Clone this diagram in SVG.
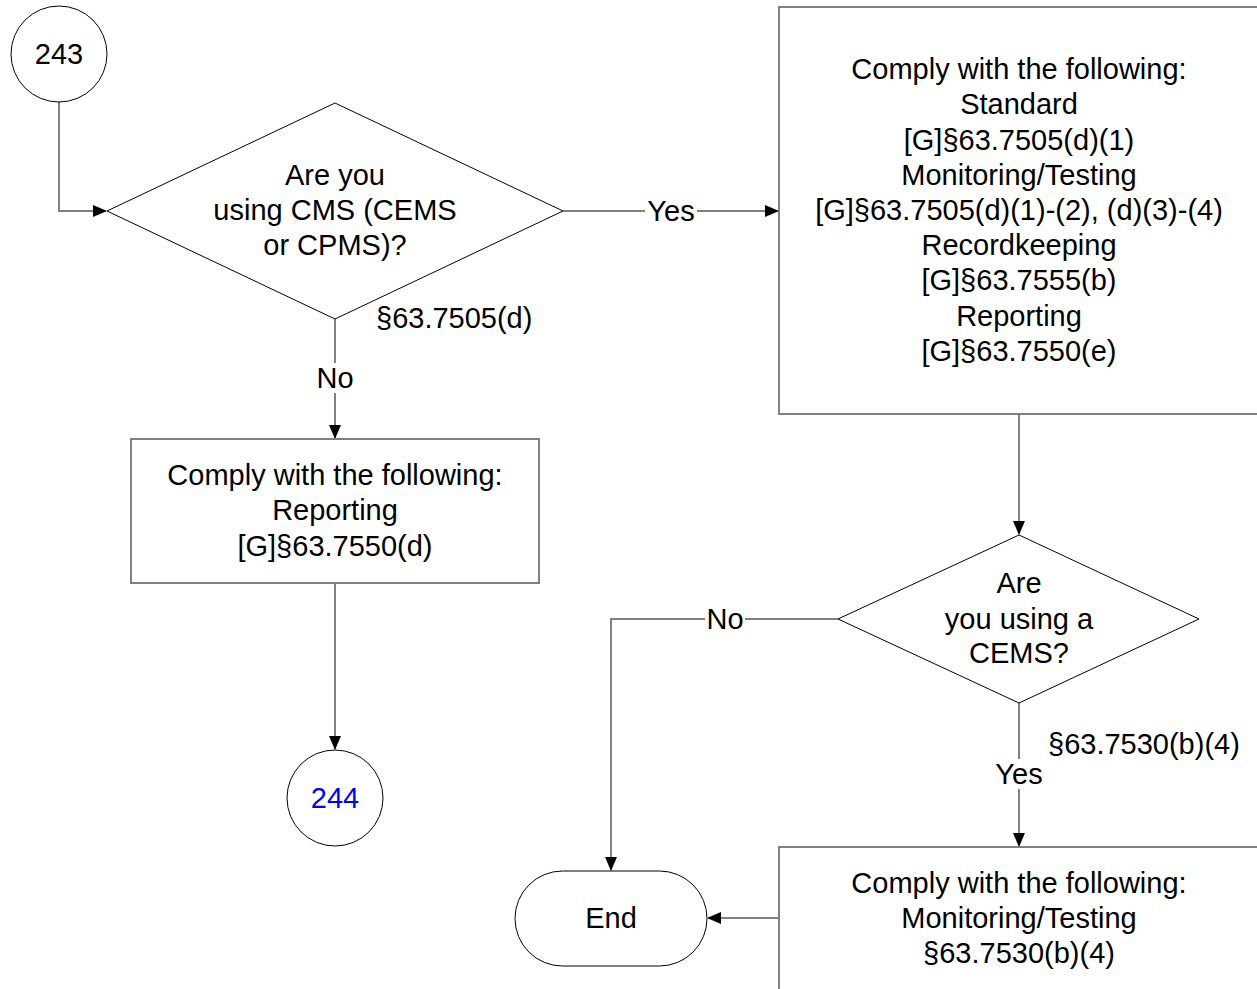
<svg xmlns="http://www.w3.org/2000/svg" width="1257" height="989" viewBox="0 0 1257 989">
<style>
text{font-family:"Liberation Sans",Arial,sans-serif;font-size:29px;fill:#000;text-anchor:middle}
.box{fill:#fff;stroke:#808080;stroke-width:2}
.shape{fill:#fff;stroke:#000;stroke-width:1}
.conn{fill:none;stroke:#808080;stroke-width:2}
.lbl{fill:#fff;stroke:none}
.left{text-anchor:start}
</style>
<defs>
<marker id="arr" markerWidth="14" markerHeight="12" refX="13" refY="6" orient="auto" markerUnits="userSpaceOnUse">
<path d="M0,0 L14,6 L0,12 z" fill="#000"/>
</marker>
</defs>
<rect width="1257" height="989" fill="#fff"/>
<g id="connectors">
<path class="conn" d="M59,102 V211 H106" marker-end="url(#arr)"/>
<path class="conn" d="M563,211 H778" marker-end="url(#arr)"/>
<path class="conn" d="M335,319 V438" marker-end="url(#arr)"/>
<path class="conn" d="M335,583 V749" marker-end="url(#arr)"/>
<path class="conn" d="M1019,414 V534" marker-end="url(#arr)"/>
<path class="conn" d="M838,619 H611 V870" marker-end="url(#arr)"/>
<path class="conn" d="M1019,703 V846" marker-end="url(#arr)"/>
<path class="conn" d="M779,918 H708" marker-end="url(#arr)"/>
<rect class="lbl" x="645" y="196" width="52" height="30"/>
<text x="671" y="221">Yes</text>
<rect class="lbl" x="315" y="363" width="40" height="30"/>
<text x="335" y="388">No</text>
<text class="left" x="376" y="328">§63.7505(d)</text>
<rect class="lbl" x="705" y="604" width="40" height="30"/>
<text x="725" y="629">No</text>
<rect class="lbl" x="993" y="759" width="52" height="30"/>
<text x="1019" y="784">Yes</text>
<text class="left" x="1048" y="754">§63.7530(b)(4)</text>
</g>
<g id="n243">
<circle class="shape" cx="59" cy="54" r="48"/>
<text x="59" y="64">243</text>
</g>
<g id="d1">
<polygon class="shape" points="107,211 335,103 563,211 335,319"/>
<text x="335" y="185">Are you</text>
<text x="335" y="220">using CMS (CEMS</text>
<text x="335" y="255">or CPMS)?</text>
</g>
<g id="b1">
<rect class="box" x="779" y="7" width="490" height="407"/>
<text x="1019" y="79">Comply with the following:</text>
<text x="1019" y="114">Standard</text>
<text x="1019" y="150">[G]§63.7505(d)(1)</text>
<text x="1019" y="185">Monitoring/Testing</text>
<text x="1019" y="220">[G]§63.7505(d)(1)-(2), (d)(3)-(4)</text>
<text x="1019" y="255">Recordkeeping</text>
<text x="1019" y="290">[G]§63.7555(b)</text>
<text x="1019" y="326">Reporting</text>
<text x="1019" y="361">[G]§63.7550(e)</text>
</g>
<g id="b2">
<rect class="box" x="131" y="439" width="408" height="144"/>
<text x="335" y="485">Comply with the following:</text>
<text x="335" y="520">Reporting</text>
<text x="335" y="556">[G]§63.7550(d)</text>
</g>
<g id="n244">
<circle class="shape" cx="335" cy="798" r="48"/>
<text x="335" y="808" style="fill:#0000ff">244</text>
</g>
<g id="d2">
<polygon class="shape" points="838,619 1019,535 1199,619 1019,703"/>
<text x="1019" y="593">Are</text>
<text x="1019" y="629">you using a</text>
<text x="1019" y="663">CEMS?</text>
</g>
<g id="b3">
<rect class="box" x="779" y="847" width="490" height="160"/>
<text x="1019" y="893">Comply with the following:</text>
<text x="1019" y="928">Monitoring/Testing</text>
<text x="1019" y="963">§63.7530(b)(4)</text>
</g>
<g id="end">
<rect class="shape" x="515" y="871" width="192" height="95" rx="47.5" ry="47.5"/>
<text x="611" y="928">End</text>
</g>
</svg>
